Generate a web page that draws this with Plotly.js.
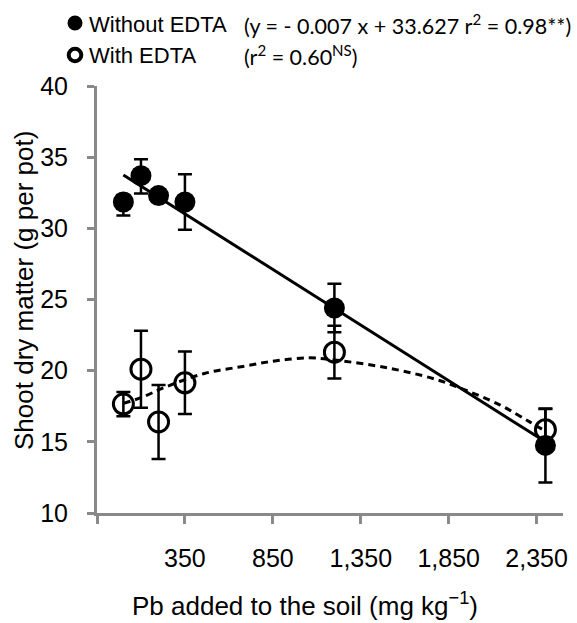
<!DOCTYPE html>
<html>
<head>
<meta charset="utf-8">
<script src="https://cdn.plot.ly/plotly-3.0.1.min.js"></script>
<style>
html,body{margin:0;padding:0;background:#fff;}
#chart{width:577px;height:623px;}
</style>
</head>
<body>
<div id="chart"></div>
<script>
// Pb added to the soil (mg kg-1)
const pbLevels = [0, 100, 200, 350, 1200, 2400];

// Without EDTA (filled circles)
const withoutEdta = [31.85, 33.7, 32.3, 31.85, 24.4, 14.75];
const withoutErrPlus = [0.5, 1.15, 0, 1.95, 1.7, 2.6];
const withoutErrMinus = [0.95, 1.25, 0, 1.95, 1.7, 2.6];

// With EDTA (open circles)
const withEdta = [17.65, 20.1, 16.4, 19.15, 21.3, 15.85];
const withErr = [0.85, 2.7, 2.6, 2.2, 1.85, 1.45];

// Linear trend, without EDTA (end points)
const trendWithoutX = [0, 2400];
const trendWithoutY = [33.75, 15.0];

// Curved trend, with EDTA
const trendWithX = [0, 100, 240, 460, 680, 870, 1060, 1200, 1500, 1760, 1900, 2140, 2310, 2400];
const trendWithY = [17.7, 18.1, 18.85, 19.8, 20.3, 20.7, 20.9, 20.75, 20.2, 19.45, 18.85, 17.6, 16.4, 15.75];

// Axis ticks
const xTickVals = [350, 850, 1350, 1850, 2350];
const xTickText = ['350', '850', '1,350', '1,850', '2,350'];
const xOriginTick = [-150];
const yTickVals = [10, 15, 20, 25, 30, 35, 40];

const W = 577, H = 623;
const M = {l: 97, r: 14, t: 86, b: 110};
const PW = W - M.l - M.r, PH = H - M.t - M.b;
const px = x => (x - M.l) / PW;
const py = y => (H - M.b - y) / PH;

const axisGrey = '#898989';
const sans = 'Liberation Sans, Arial, sans-serif';

const traces = [
  {
    x: pbLevels, y: withoutEdta, type: 'scatter', mode: 'markers',
    name: 'Without EDTA', showlegend: false,
    marker: {symbol: 'circle', size: 21, color: '#000'},
    error_y: {type: 'data', array: withoutErrPlus, arrayminus: withoutErrMinus,
              symmetric: false, color: '#000', thickness: 2.5, width: 7}
  },
  {
    x: pbLevels, y: withEdta, type: 'scatter', mode: 'markers',
    name: 'With EDTA', showlegend: false,
    marker: {symbol: 'circle-open', size: 20, color: '#000', line: {width: 3, color: '#000'}},
    error_y: {type: 'data', array: withErr, color: '#000', thickness: 2.5, width: 7}
  },
  {
    x: trendWithoutX, y: trendWithoutY, type: 'scatter', mode: 'lines',
    showlegend: false, hoverinfo: 'skip',
    line: {color: '#000', width: 3}
  },
  {
    x: trendWithX, y: trendWithY, type: 'scatter', mode: 'lines',
    showlegend: false, hoverinfo: 'skip',
    line: {color: '#000', width: 3, dash: '7px,5px', shape: 'spline', smoothing: 1}
  }
];

const layout = {
  width: W, height: H,
  margin: M,
  paper_bgcolor: '#fff', plot_bgcolor: '#fff',
  showlegend: false,
  font: {family: sans, color: '#000'},
  xaxis: {
    range: [-150, 2500], tickmode: 'array', tickvals: xTickVals, ticktext: xTickText,
    showgrid: false, zeroline: false, showline: true, linecolor: axisGrey, linewidth: 3,
    ticks: 'outside', ticklen: 8, tickwidth: 3, tickcolor: axisGrey,
    minor: {tickmode: 'array', tickvals: xOriginTick, ticks: 'outside', ticklen: 8,
            tickwidth: 3, tickcolor: axisGrey, showgrid: false},
    tickfont: {size: 25, family: sans, color: '#000'},
    ticklabelstandoff: 13
  },
  yaxis: {
    range: [10, 40], tickmode: 'array', tickvals: yTickVals,
    showgrid: false, zeroline: false, showline: true, linecolor: axisGrey, linewidth: 3,
    ticks: 'outside', ticklen: 7, tickwidth: 3, tickcolor: axisGrey,
    tickfont: {size: 25, family: sans, color: '#000'},
    ticklabelstandoff: 14
  },
  shapes: [
    {type: 'circle', xref: 'paper', yref: 'paper', xsizemode: 'pixel', ysizemode: 'pixel',
     xanchor: px(75), yanchor: py(23), x0: -7.5, x1: 7.5, y0: -7.5, y1: 7.5,
     fillcolor: '#000', line: {color: '#000', width: 0}},
    {type: 'circle', xref: 'paper', yref: 'paper', xsizemode: 'pixel', ysizemode: 'pixel',
     xanchor: px(75), yanchor: py(55), x0: -6.3, x1: 6.3, y0: -6.3, y1: 6.3,
     fillcolor: 'rgba(0,0,0,0)', line: {color: '#000', width: 4}}
  ],
  annotations: [
    {xref: 'paper', yref: 'paper', x: px(87), y: py(24), xanchor: 'left', yanchor: 'middle',
     text: 'Without EDTA', showarrow: false,
     font: {size: 22, family: sans, color: '#000'}},
    {xref: 'paper', yref: 'paper', x: px(87), y: py(56), xanchor: 'left', yanchor: 'middle',
     text: 'With EDTA', showarrow: false,
     font: {size: 22, family: sans, color: '#000'}},
    {xref: 'paper', yref: 'paper', x: px(242), y: py(24), xanchor: 'left', yanchor: 'middle',
     text: '(y = - 0.007 x + 33.627 r<sup>2</sup> = 0.98**)', showarrow: false,
     font: {size: 21.5, family: 'Lato, sans-serif', color: '#000'}},
    {xref: 'paper', yref: 'paper', x: px(242), y: py(56), xanchor: 'left', yanchor: 'middle',
     text: '(r<sup>2</sup> = 0.60<sup>NS</sup>)', showarrow: false,
     font: {size: 21.5, family: 'Lato, sans-serif', color: '#000'}},
    {xref: 'paper', yref: 'paper', x: px(24), y: py(291), xanchor: 'center', yanchor: 'middle',
     textangle: -90, text: 'Shoot dry matter (g per pot)', showarrow: false,
     font: {size: 26, family: sans, color: '#000'}},
    {xref: 'paper', yref: 'paper', x: px(305), y: py(604), xanchor: 'center', yanchor: 'middle',
     text: 'Pb added to the soil (mg kg<sup>\u22121</sup>)', showarrow: false,
     font: {size: 26, family: sans, color: '#000'}}
  ]
};

Plotly.newPlot('chart', traces, layout, {displayModeBar: false, staticPlot: true});
</script>
</body>
</html>
